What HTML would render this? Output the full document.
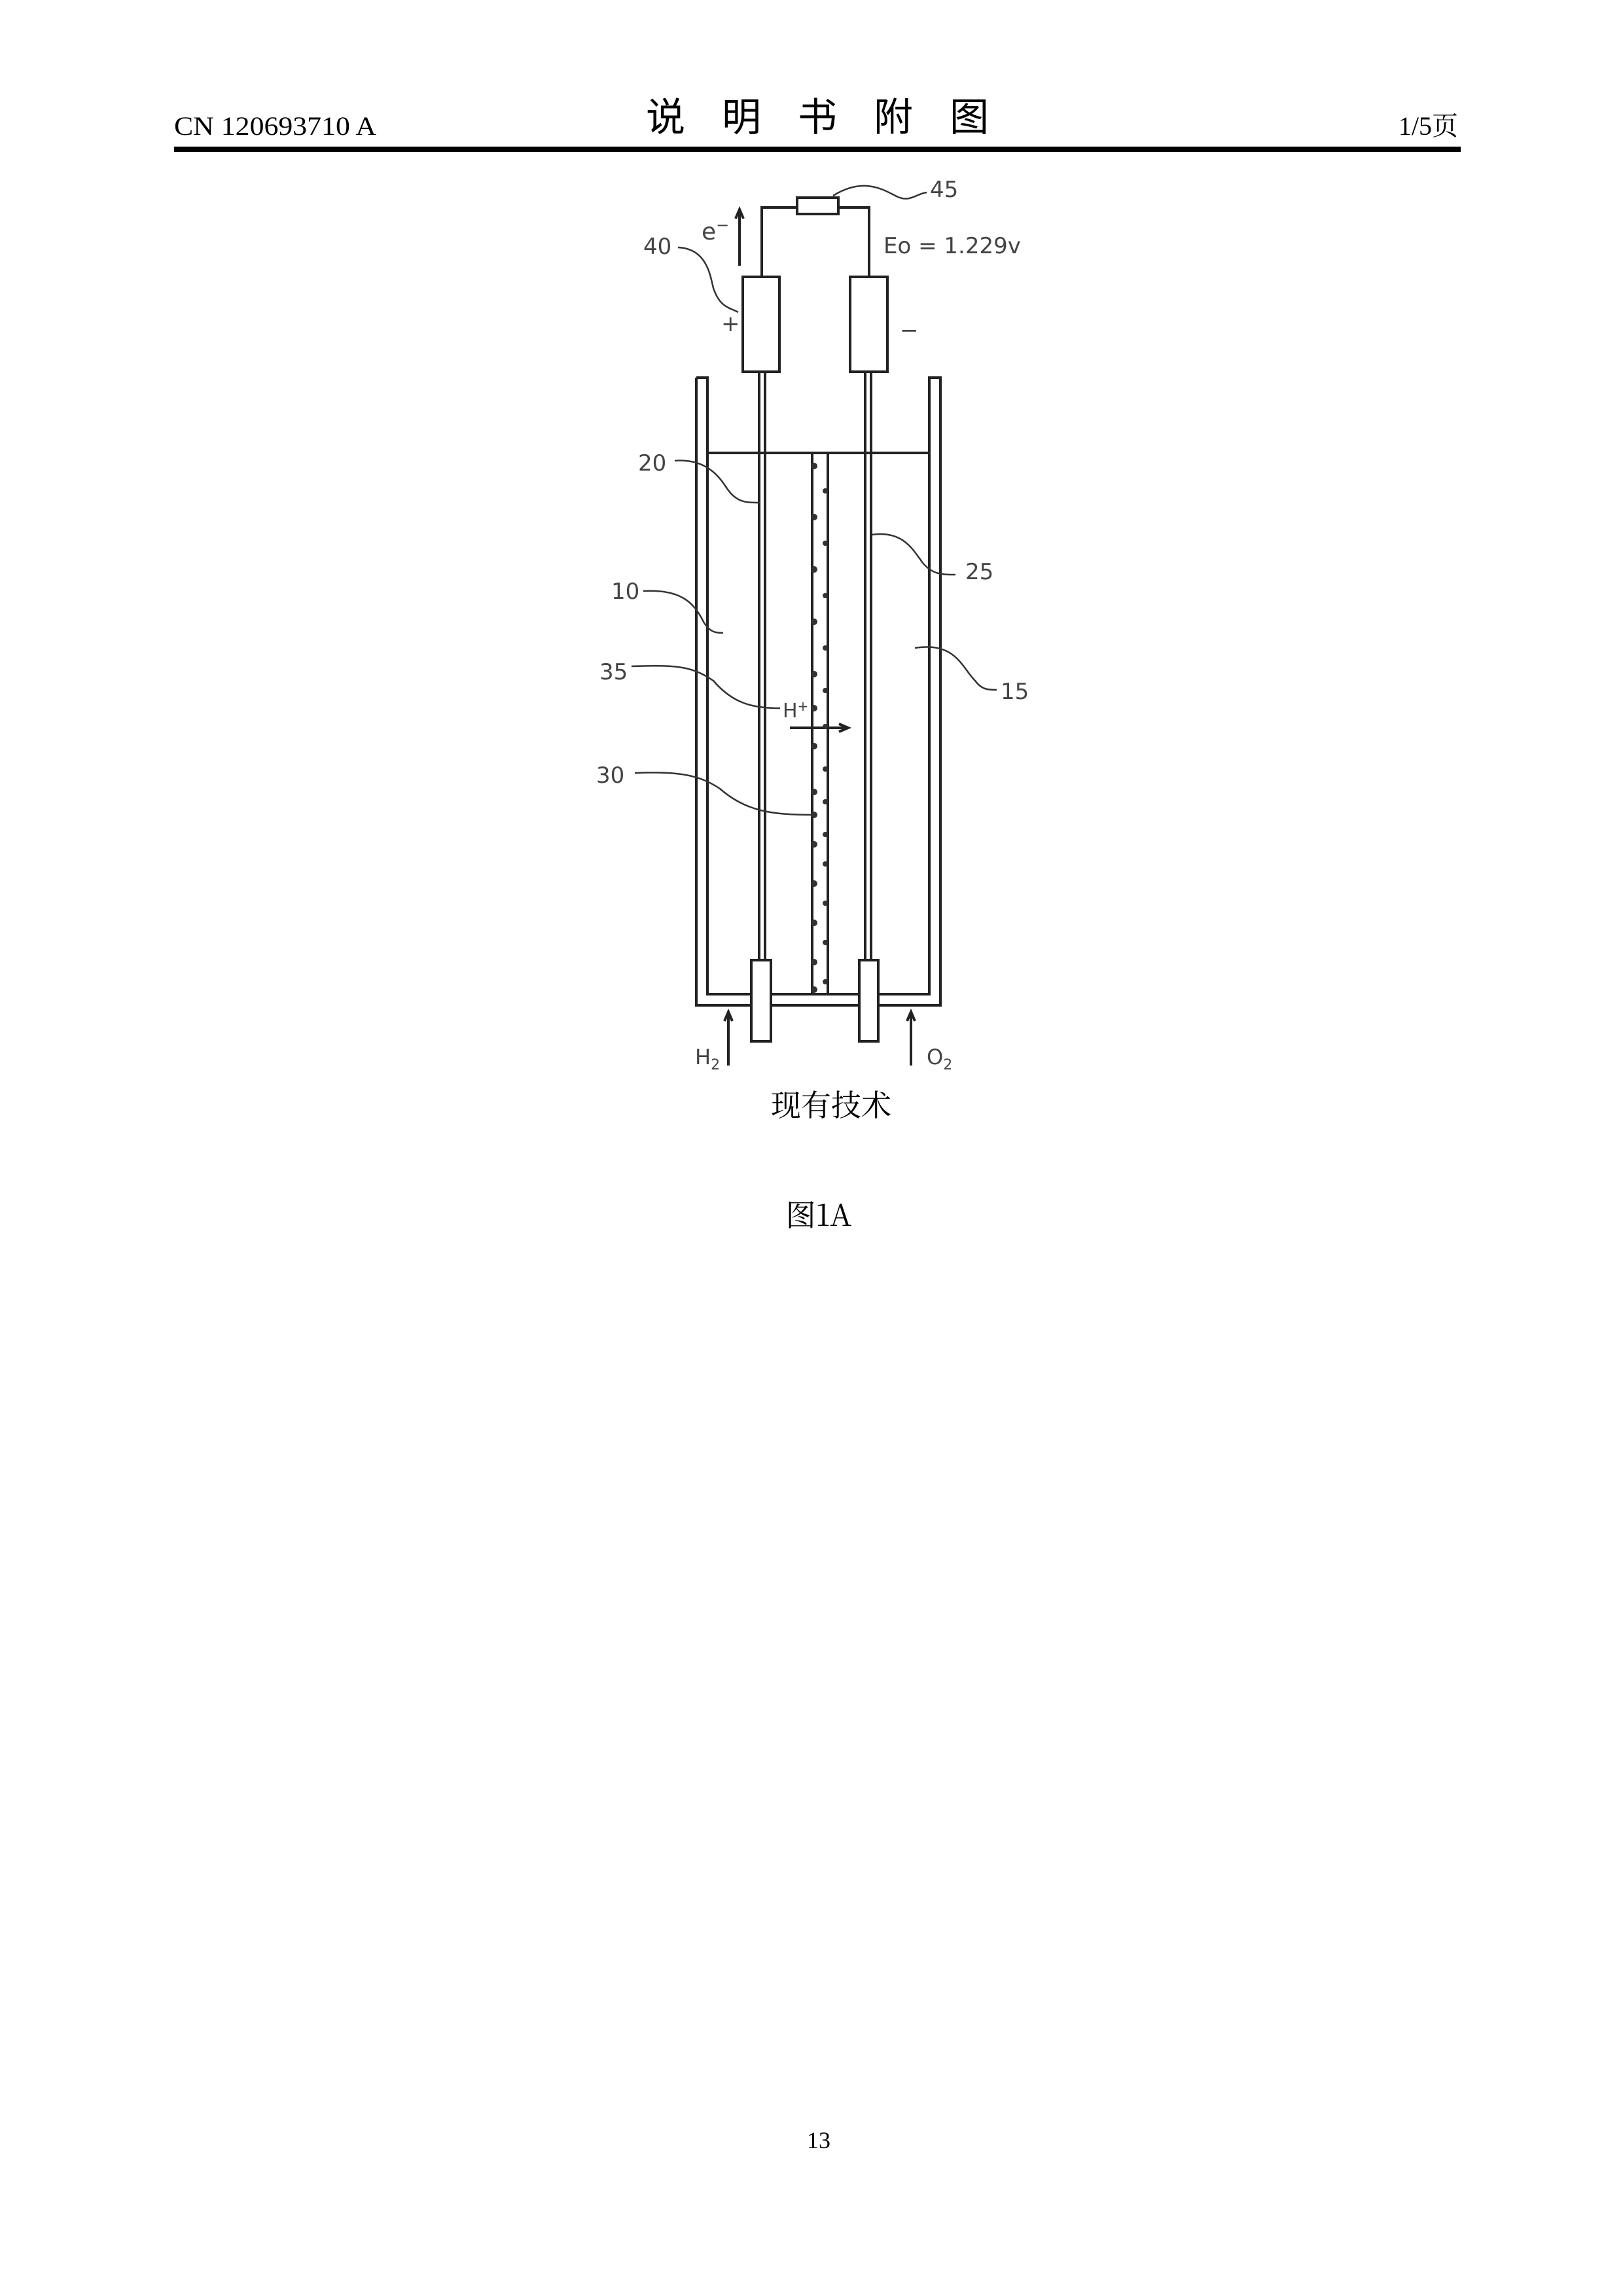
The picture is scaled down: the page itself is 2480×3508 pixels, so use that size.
<!DOCTYPE html>
<html><head><meta charset="utf-8"><style>
html,body{margin:0;padding:0;background:#fff}
body{width:2480px;height:3508px;position:relative;overflow:hidden}
svg{position:absolute;left:0;top:0}
</style></head><body>
<svg width="2480" height="3508" viewBox="0 0 2480 3508" xmlns="http://www.w3.org/2000/svg">
<g font-family="'Liberation Serif','Noto Serif CJK SC',serif" fill="#000">
<text x="266" y="206" font-size="40" textLength="309" lengthAdjust="spacingAndGlyphs">CN 120693710 A</text>
<g font-size="60" text-anchor="middle" font-family="'Noto Sans CJK SC',sans-serif">
<text x="1017" y="200">说</text><text x="1133" y="200">明</text><text x="1249" y="200">书</text><text x="1365" y="200">附</text><text x="1481" y="200">图</text>
</g>
<text x="2228" y="206" font-size="40" text-anchor="end">1/5页</text>
<text x="1251" y="3282" font-size="36" text-anchor="middle">13</text>
<text x="1270" y="1705" font-size="46" text-anchor="middle" font-family="'Noto Serif CJK SC',serif">现有技术</text>
<text x="1251" y="1873" font-size="46" text-anchor="middle" font-family="'Noto Serif CJK SC',serif">图1A</text>
</g>
<rect x="266" y="224" width="1966" height="8" fill="#000"/>
<g stroke="#222" stroke-width="4" fill="none">
<rect x="1218" y="302" width="63" height="25" fill="#fff"/>
<polyline points="1164,423 1164,317 1218,317"/>
<polyline points="1281,317 1328,317 1328,423"/>
<rect x="1135" y="423" width="56" height="145"/>
<rect x="1299" y="423" width="57" height="145"/>
<line x1="1130" y1="406" x2="1130" y2="322"/>
<polyline points="1124,334 1130,320 1136,334"/>
<polyline points="1064,577 1064,1536 1437,1536 1437,577 1420,577 1420,1519 1081,1519 1081,577 1064,577"/>
<line x1="1081" y1="692" x2="1420" y2="692"/>
<line x1="1160" y1="568" x2="1160" y2="1467"/>
<line x1="1169" y1="568" x2="1169" y2="1467"/>
<line x1="1322" y1="568" x2="1322" y2="1467"/>
<line x1="1331" y1="568" x2="1331" y2="1467"/>
<rect x="1148" y="1467" width="30" height="124" fill="#fff"/>
<rect x="1313" y="1467" width="29" height="124" fill="#fff"/>
<line x1="1241" y1="692" x2="1241" y2="1519"/>
<line x1="1265" y1="692" x2="1265" y2="1519"/>
<line x1="1113" y1="1628" x2="1113" y2="1548"/>
<polyline points="1107,1560 1113,1546 1119,1560"/>
<line x1="1392" y1="1628" x2="1392" y2="1548"/>
<polyline points="1386,1560 1392,1546 1398,1560"/>
<line x1="1207" y1="1112" x2="1294" y2="1112"/>
<polyline points="1282,1106 1296,1112 1282,1118"/>
</g>
<g fill="#333">
<circle cx="1244" cy="712" r="5"/><circle cx="1261" cy="750" r="4"/>
<circle cx="1244" cy="790" r="5"/><circle cx="1261" cy="830" r="4"/>
<circle cx="1244" cy="870" r="5"/><circle cx="1261" cy="910" r="4"/>
<circle cx="1244" cy="950" r="5"/><circle cx="1261" cy="990" r="4"/>
<circle cx="1244" cy="1030" r="5"/><circle cx="1261" cy="1055" r="4"/>
<circle cx="1244" cy="1082" r="5"/><circle cx="1261" cy="1110" r="4"/>
<circle cx="1244" cy="1140" r="5"/><circle cx="1261" cy="1175" r="4"/>
<circle cx="1244" cy="1210" r="5"/><circle cx="1261" cy="1225" r="4"/>
<circle cx="1244" cy="1245" r="5"/><circle cx="1261" cy="1275" r="4"/>
<circle cx="1244" cy="1290" r="5"/><circle cx="1261" cy="1320" r="4"/>
<circle cx="1244" cy="1350" r="5"/><circle cx="1261" cy="1380" r="4"/>
<circle cx="1244" cy="1410" r="5"/><circle cx="1261" cy="1440" r="4"/>
<circle cx="1244" cy="1470" r="5"/><circle cx="1261" cy="1500" r="4"/>
<circle cx="1244" cy="1512" r="5"/>
</g>
<g stroke="#333" stroke-width="2.5" fill="none">
<path d="M1036,378 C1080,380 1085,420 1090,440 C1100,470 1115,470 1128,477"/>
<path d="M1273,299 C1320,270 1350,290 1370,300 C1390,310 1400,296 1416,294"/>
<path d="M1031,704 C1080,700 1100,730 1110,745 C1125,768 1140,768 1161,768"/>
<path d="M1332,817 C1380,810 1395,840 1410,860 C1425,878 1440,878 1460,878"/>
<path d="M983,903 C1040,900 1060,920 1075,950 C1085,967 1095,967 1105,967"/>
<path d="M1398,990 C1460,980 1470,1020 1490,1040 C1500,1054 1510,1054 1523,1054"/>
<path d="M965,1018 C1040,1015 1060,1020 1090,1040 C1120,1075 1150,1082 1192,1082"/>
<path d="M970,1181 C1040,1178 1070,1185 1100,1205 C1140,1240 1180,1245 1243,1245"/>
</g>
<g font-family="'DejaVu Sans','Liberation Sans',sans-serif" fill="#444" font-size="34">
<text x="983" y="388">40</text>
<text x="1072" y="366" font-size="36">e<tspan font-size="24" dy="-14">−</tspan></text>
<text x="1421" y="301">45</text>
<text x="1350" y="387">Eo = 1.229v</text>
<text x="1102" y="506">+</text>
<text x="1375" y="516">−</text>
<text x="975" y="719">20</text>
<text x="1475" y="885">25</text>
<text x="934" y="915">10</text>
<text x="916" y="1038">35</text>
<text x="1529" y="1068">15</text>
<text x="1196" y="1096" font-size="30">H<tspan font-size="20" dy="-10">+</tspan></text>
<text x="911" y="1196">30</text>
<text x="1062" y="1626" font-size="32">H<tspan font-size="22" dy="8">2</tspan></text>
<text x="1416" y="1626" font-size="32">O<tspan font-size="22" dy="8">2</tspan></text>
</g>
</svg>
</body></html>
